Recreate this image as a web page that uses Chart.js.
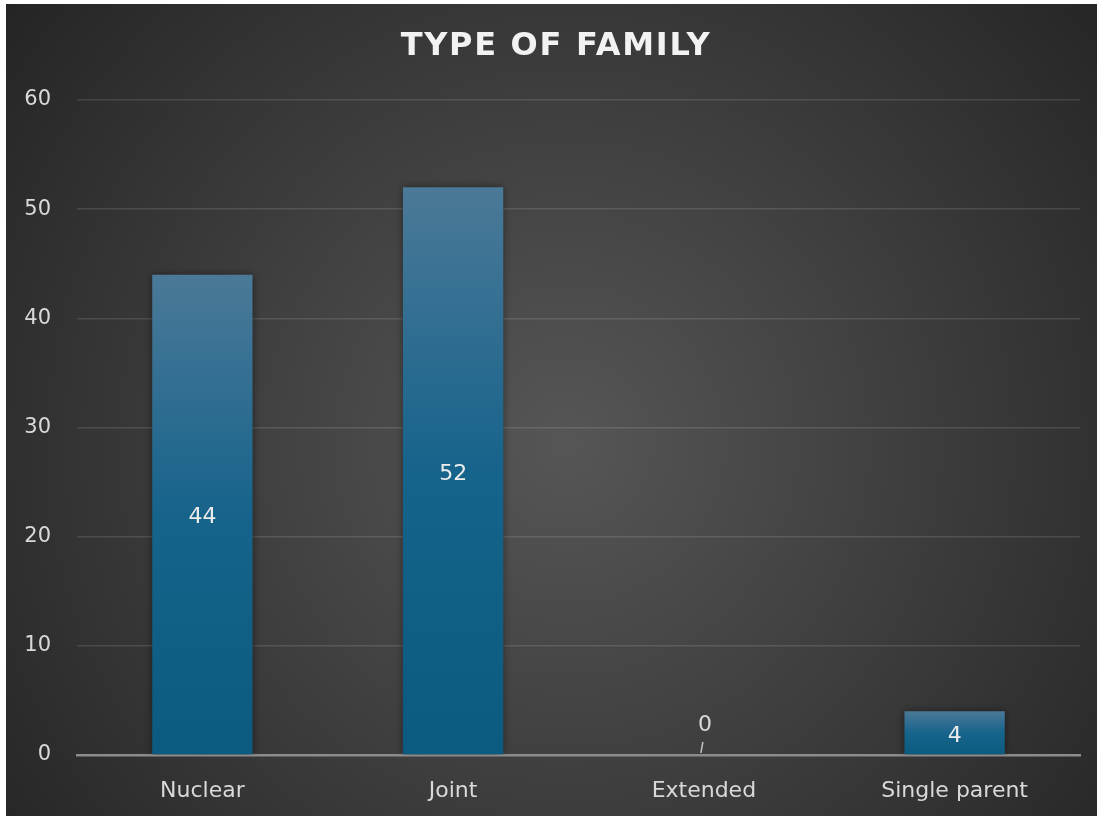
<!DOCTYPE html>
<html>
<head>
<meta charset="utf-8">
<script src="https://cdn.jsdelivr.net/npm/chart.js@4.4.1/dist/chart.umd.min.js"></script>
<style>
  body { margin: 0; background: #ffffff; }
  #familyChart { position: absolute; left: 6px; top: 4px; }
</style>
</head>
<body>
<canvas id="familyChart" width="1091" height="812"></canvas>
<script>
const categories = ['Nuclear', 'Joint', 'Extended', 'Single parent'];
const familyCounts = [44, 52, 0, 4];
const yTicks = [0, 10, 20, 30, 40, 50, 60];
const chartTitle = 'TYPE OF FAMILY';

// dark radial backdrop behind everything
const backdrop = {
    id: 'backdrop',
    beforeDraw(chart) {
        const ctx = chart.ctx;
        const w = chart.width, h = chart.height;
        const g = ctx.createRadialGradient(560, 440, 0, 560, 440, 720);
        g.addColorStop(0, '#565656');
        g.addColorStop(1, '#242424');
        ctx.save();
        ctx.fillStyle = g;
        ctx.fillRect(0, 0, w, h);
        ctx.font = 'bold 32px "DejaVu Sans"';
        ctx.letterSpacing = '1.7px';
        ctx.fillStyle = '#f2f2f2';
        ctx.textAlign = 'center';
        ctx.textBaseline = 'middle';
        ctx.fillText(chartTitle, 550, 43);
        ctx.restore();
    }
};

// soft shadow under the bars
const barShadow = {
    id: 'barShadow',
    beforeDatasetsDraw(chart) {
        chart.ctx.save();
        chart.ctx.shadowColor = 'rgba(0,0,0,0.45)';
        chart.ctx.shadowBlur = 8;
    },
    afterDatasetsDraw(chart) {
        chart.ctx.restore();
    }
};

// value labels: centred in the bar, or above the axis with a leader for zero
const valueLabels = {
    id: 'valueLabels',
    afterDatasetsDraw(chart) {
        const ctx = chart.ctx;
        const meta = chart.getDatasetMeta(0);
        ctx.save();
        ctx.font = '22px "DejaVu Sans"';
        ctx.textAlign = 'center';
        ctx.textBaseline = 'middle';
        meta.data.forEach((bar, i) => {
            const v = familyCounts[i];
            if (v > 0) {
                ctx.fillStyle = '#ececec';
                ctx.fillText(String(v), bar.x, (bar.y + bar.base) / 2 + 3);
            } else {
                ctx.fillStyle = '#d9d9d9';
                ctx.fillText(String(v), bar.x + 1, bar.base - 30);
                ctx.strokeStyle = '#bfbfbf';
                ctx.lineWidth = 1.5;
                ctx.beginPath();
                ctx.moveTo(bar.x - 1, bar.base - 13);
                ctx.lineTo(bar.x - 3, bar.base - 2);
                ctx.stroke();
            }
        });
        ctx.restore();
    }
};

function barGradient(context) {
    const chart = context.chart;
    if (!chart.chartArea) return '#0e5a80';
    const y = chart.scales.y;
    const top = y.getPixelForValue(context.raw);
    const bottom = y.getPixelForValue(0);
    if (bottom - top < 1) return '#0e5a80';
    const g = chart.ctx.createLinearGradient(0, top, 0, bottom);
    g.addColorStop(0, '#4b7998');
    g.addColorStop(0.5, '#16638b');
    g.addColorStop(1, '#0d5a80');
    return g;
}

new Chart(document.getElementById('familyChart'), {
    type: 'bar',
    data: {
        labels: categories,
        datasets: [{
            data: familyCounts,
            backgroundColor: barGradient,
            borderWidth: 0,
            categoryPercentage: 0.8,
            barPercentage: 0.5
        }]
    },
    options: {
        responsive: false,
        animation: false,
        layout: { padding: { top: 96, right: 17, left: 0, bottom: 0 } },
        plugins: {
            legend: { display: false },
            tooltip: { enabled: false }
        },
        scales: {
            x: {
                grid: { display: false, drawTicks: false },
                border: { display: true, color: '#8c8c8c', width: 2.5 },
                ticks: {
                    color: '#d9d9d9',
                    font: { family: 'DejaVu Sans', size: 22 },
                    padding: 23
                },
                afterFit(scale) { scale.height = 61; }
            },
            y: {
                min: 0,
                max: 60,
                afterBuildTicks(scale) {
                    scale.ticks = yTicks.map(v => ({ value: v }));
                },
                grid: { color: 'rgba(255,255,255,0.12)', lineWidth: 1.5, drawTicks: false },
                border: { display: false },
                ticks: {
                    color: '#d9d9d9',
                    font: { family: 'DejaVu Sans', size: 21 },
                    padding: 26
                },
                afterFit(scale) { scale.width = 71; }
            }
        }
    },
    plugins: [backdrop, barShadow, valueLabels]
});
</script>
</body>
</html>
